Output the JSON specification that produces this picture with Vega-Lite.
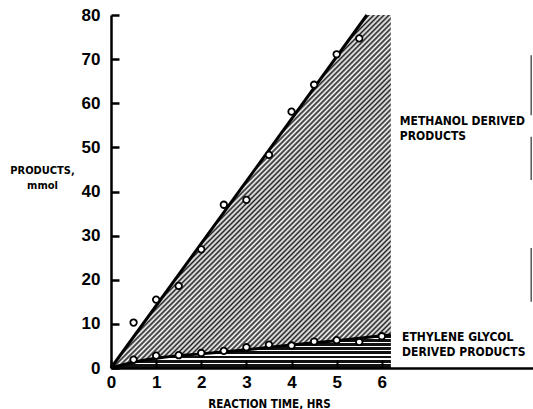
{
"$schema": "https://vega.github.io/schema/vega-lite/v6.json",
"width": 422, "height": 353,
"autosize": {"type": "none"},
"padding": {"left": 111, "top": 15, "right": 0, "bottom": 41},
"background": "white",
"config": {"view": {"stroke": null}},
"datasets": {
"upper": [{"t": 0, "v": 0}, {"t": 5.67, "v": 80}, {"t": 6.2, "v": 80}],
"meoh_line": [{"t": 0, "v": 0}, {"t": 5.67, "v": 80}],
"eg_curve": [{"t": 0, "v": 0}, {"t": 0.5, "v": 1.3}, {"t": 1, "v": 2.2}, {"t": 2, "v": 3.2}, {"t": 3, "v": 4.15}, {"t": 4, "v": 5.2}, {"t": 5, "v": 6.2}, {"t": 6, "v": 7.3}, {"t": 6.2, "v": 7.5}],
"meoh_pts": [{"t": 0.5, "v": 10.3}, {"t": 1, "v": 15.5}, {"t": 1.5, "v": 18.6}, {"t": 2, "v": 26.9}, {"t": 2.5, "v": 37}, {"t": 3, "v": 38.1}, {"t": 3.5, "v": 48.3}, {"t": 4, "v": 58.1}, {"t": 4.5, "v": 64.2}, {"t": 5, "v": 71.1}, {"t": 5.5, "v": 74.7}],
"eg_pts": [{"t": 0.5, "v": 1.9}, {"t": 1, "v": 2.8}, {"t": 1.5, "v": 2.9}, {"t": 2, "v": 3.4}, {"t": 2.5, "v": 3.9}, {"t": 3, "v": 4.7}, {"t": 3.5, "v": 5.3}, {"t": 4, "v": 5.1}, {"t": 4.5, "v": 6.0}, {"t": 5, "v": 6.3}, {"t": 5.5, "v": 5.9}, {"t": 6, "v": 7.2}],
"labels": [{"t": 6.4, "v": 57.1, "label": "METHANOL DERIVED\nPRODUCTS"}, {"t": 6.45, "v": 8.2, "label": "ETHYLENE GLYCOL\nDERIVED PRODUCTS"}],
"bracket": [{"v": 70.9, "v2": 57.3}, {"v": 52.4, "v2": 42.6}, {"v": 27.2, "v2": 15}]
},
"layer": [
{"data": {"name": "upper"},
 "mark": {"type": "area", "stroke": null, "fillOpacity": 1, "fill": {"gradient": "linear", "x1": 0, "y1": 0, "x2": 0.873, "y2": 1.1, "stops": [
{"offset":0,"color":"#222"},{"offset":0.004,"color":"#fff"},{"offset":0.008,"color":"#222"},{"offset":0.012,"color":"#fff"},{"offset":0.016,"color":"#222"},{"offset":0.02,"color":"#fff"},{"offset":0.024,"color":"#222"},{"offset":0.028,"color":"#fff"},{"offset":0.032,"color":"#222"},{"offset":0.036,"color":"#fff"},{"offset":0.04,"color":"#222"},{"offset":0.044,"color":"#fff"},{"offset":0.048,"color":"#222"},{"offset":0.052,"color":"#fff"},{"offset":0.056,"color":"#222"},{"offset":0.06,"color":"#fff"},{"offset":0.064,"color":"#222"},{"offset":0.068,"color":"#fff"},{"offset":0.072,"color":"#222"},{"offset":0.076,"color":"#fff"},{"offset":0.08,"color":"#222"},{"offset":0.084,"color":"#fff"},{"offset":0.088,"color":"#222"},{"offset":0.092,"color":"#fff"},{"offset":0.096,"color":"#222"},
{"offset":0.1,"color":"#fff"},{"offset":0.104,"color":"#222"},{"offset":0.108,"color":"#fff"},{"offset":0.112,"color":"#222"},{"offset":0.116,"color":"#fff"},{"offset":0.12,"color":"#222"},{"offset":0.124,"color":"#fff"},{"offset":0.128,"color":"#222"},{"offset":0.132,"color":"#fff"},{"offset":0.136,"color":"#222"},{"offset":0.14,"color":"#fff"},{"offset":0.144,"color":"#222"},{"offset":0.148,"color":"#fff"},{"offset":0.152,"color":"#222"},{"offset":0.156,"color":"#fff"},{"offset":0.16,"color":"#222"},{"offset":0.164,"color":"#fff"},{"offset":0.168,"color":"#222"},{"offset":0.172,"color":"#fff"},{"offset":0.176,"color":"#222"},{"offset":0.18,"color":"#fff"},{"offset":0.184,"color":"#222"},{"offset":0.188,"color":"#fff"},{"offset":0.192,"color":"#222"},{"offset":0.196,"color":"#fff"},
{"offset":0.2,"color":"#222"},{"offset":0.204,"color":"#fff"},{"offset":0.208,"color":"#222"},{"offset":0.212,"color":"#fff"},{"offset":0.216,"color":"#222"},{"offset":0.22,"color":"#fff"},{"offset":0.224,"color":"#222"},{"offset":0.228,"color":"#fff"},{"offset":0.232,"color":"#222"},{"offset":0.236,"color":"#fff"},{"offset":0.24,"color":"#222"},{"offset":0.244,"color":"#fff"},{"offset":0.248,"color":"#222"},{"offset":0.252,"color":"#fff"},{"offset":0.256,"color":"#222"},{"offset":0.26,"color":"#fff"},{"offset":0.264,"color":"#222"},{"offset":0.268,"color":"#fff"},{"offset":0.272,"color":"#222"},{"offset":0.276,"color":"#fff"},{"offset":0.28,"color":"#222"},{"offset":0.284,"color":"#fff"},{"offset":0.288,"color":"#222"},{"offset":0.292,"color":"#fff"},{"offset":0.296,"color":"#222"},
{"offset":0.3,"color":"#fff"},{"offset":0.304,"color":"#222"},{"offset":0.308,"color":"#fff"},{"offset":0.312,"color":"#222"},{"offset":0.316,"color":"#fff"},{"offset":0.32,"color":"#222"},{"offset":0.324,"color":"#fff"},{"offset":0.328,"color":"#222"},{"offset":0.332,"color":"#fff"},{"offset":0.336,"color":"#222"},{"offset":0.34,"color":"#fff"},{"offset":0.344,"color":"#222"},{"offset":0.348,"color":"#fff"},{"offset":0.352,"color":"#222"},{"offset":0.356,"color":"#fff"},{"offset":0.36,"color":"#222"},{"offset":0.364,"color":"#fff"},{"offset":0.368,"color":"#222"},{"offset":0.372,"color":"#fff"},{"offset":0.376,"color":"#222"},{"offset":0.38,"color":"#fff"},{"offset":0.384,"color":"#222"},{"offset":0.388,"color":"#fff"},{"offset":0.392,"color":"#222"},{"offset":0.396,"color":"#fff"},
{"offset":0.4,"color":"#222"},{"offset":0.404,"color":"#fff"},{"offset":0.408,"color":"#222"},{"offset":0.412,"color":"#fff"},{"offset":0.416,"color":"#222"},{"offset":0.42,"color":"#fff"},{"offset":0.424,"color":"#222"},{"offset":0.428,"color":"#fff"},{"offset":0.432,"color":"#222"},{"offset":0.436,"color":"#fff"},{"offset":0.44,"color":"#222"},{"offset":0.444,"color":"#fff"},{"offset":0.448,"color":"#222"},{"offset":0.452,"color":"#fff"},{"offset":0.456,"color":"#222"},{"offset":0.46,"color":"#fff"},{"offset":0.464,"color":"#222"},{"offset":0.468,"color":"#fff"},{"offset":0.472,"color":"#222"},{"offset":0.476,"color":"#fff"},{"offset":0.48,"color":"#222"},{"offset":0.484,"color":"#fff"},{"offset":0.488,"color":"#222"},{"offset":0.492,"color":"#fff"},{"offset":0.496,"color":"#222"},
{"offset":0.5,"color":"#fff"},{"offset":0.504,"color":"#222"},{"offset":0.508,"color":"#fff"},{"offset":0.512,"color":"#222"},{"offset":0.516,"color":"#fff"},{"offset":0.52,"color":"#222"},{"offset":0.524,"color":"#fff"},{"offset":0.528,"color":"#222"},{"offset":0.532,"color":"#fff"},{"offset":0.536,"color":"#222"},{"offset":0.54,"color":"#fff"},{"offset":0.544,"color":"#222"},{"offset":0.548,"color":"#fff"},{"offset":0.552,"color":"#222"},{"offset":0.556,"color":"#fff"},{"offset":0.56,"color":"#222"},{"offset":0.564,"color":"#fff"},{"offset":0.568,"color":"#222"},{"offset":0.572,"color":"#fff"},{"offset":0.576,"color":"#222"},{"offset":0.58,"color":"#fff"},{"offset":0.584,"color":"#222"},{"offset":0.588,"color":"#fff"},{"offset":0.592,"color":"#222"},{"offset":0.596,"color":"#fff"},
{"offset":0.6,"color":"#222"},{"offset":0.604,"color":"#fff"},{"offset":0.608,"color":"#222"},{"offset":0.612,"color":"#fff"},{"offset":0.616,"color":"#222"},{"offset":0.62,"color":"#fff"},{"offset":0.624,"color":"#222"},{"offset":0.628,"color":"#fff"},{"offset":0.632,"color":"#222"},{"offset":0.636,"color":"#fff"},{"offset":0.64,"color":"#222"},{"offset":0.644,"color":"#fff"},{"offset":0.648,"color":"#222"},{"offset":0.652,"color":"#fff"},{"offset":0.656,"color":"#222"},{"offset":0.66,"color":"#fff"},{"offset":0.664,"color":"#222"},{"offset":0.668,"color":"#fff"},{"offset":0.672,"color":"#222"},{"offset":0.676,"color":"#fff"},{"offset":0.68,"color":"#222"},{"offset":0.684,"color":"#fff"},{"offset":0.688,"color":"#222"},{"offset":0.692,"color":"#fff"},{"offset":0.696,"color":"#222"},
{"offset":0.7,"color":"#fff"},{"offset":0.704,"color":"#222"},{"offset":0.708,"color":"#fff"},{"offset":0.712,"color":"#222"},{"offset":0.716,"color":"#fff"},{"offset":0.72,"color":"#222"},{"offset":0.724,"color":"#fff"},{"offset":0.728,"color":"#222"},{"offset":0.732,"color":"#fff"},{"offset":0.736,"color":"#222"},{"offset":0.74,"color":"#fff"},{"offset":0.744,"color":"#222"},{"offset":0.748,"color":"#fff"},{"offset":0.752,"color":"#222"},{"offset":0.756,"color":"#fff"},{"offset":0.76,"color":"#222"},{"offset":0.764,"color":"#fff"},{"offset":0.768,"color":"#222"},{"offset":0.772,"color":"#fff"},{"offset":0.776,"color":"#222"},{"offset":0.78,"color":"#fff"},{"offset":0.784,"color":"#222"},{"offset":0.788,"color":"#fff"},{"offset":0.792,"color":"#222"},{"offset":0.796,"color":"#fff"},
{"offset":0.8,"color":"#222"},{"offset":0.804,"color":"#fff"},{"offset":0.808,"color":"#222"},{"offset":0.812,"color":"#fff"},{"offset":0.816,"color":"#222"},{"offset":0.82,"color":"#fff"},{"offset":0.824,"color":"#222"},{"offset":0.828,"color":"#fff"},{"offset":0.832,"color":"#222"},{"offset":0.836,"color":"#fff"},{"offset":0.84,"color":"#222"},{"offset":0.844,"color":"#fff"},{"offset":0.848,"color":"#222"},{"offset":0.852,"color":"#fff"},{"offset":0.856,"color":"#222"},{"offset":0.86,"color":"#fff"},{"offset":0.864,"color":"#222"},{"offset":0.868,"color":"#fff"},{"offset":0.872,"color":"#222"},{"offset":0.876,"color":"#fff"},{"offset":0.88,"color":"#222"},{"offset":0.884,"color":"#fff"},{"offset":0.888,"color":"#222"},{"offset":0.892,"color":"#fff"},{"offset":0.896,"color":"#222"},
{"offset":0.9,"color":"#fff"},{"offset":0.904,"color":"#222"},{"offset":0.908,"color":"#fff"},{"offset":0.912,"color":"#222"},{"offset":0.916,"color":"#fff"},{"offset":0.92,"color":"#222"},{"offset":0.924,"color":"#fff"},{"offset":0.928,"color":"#222"},{"offset":0.932,"color":"#fff"},{"offset":0.936,"color":"#222"},{"offset":0.94,"color":"#fff"},{"offset":0.944,"color":"#222"},{"offset":0.948,"color":"#fff"},{"offset":0.952,"color":"#222"},{"offset":0.956,"color":"#fff"},{"offset":0.96,"color":"#222"},{"offset":0.964,"color":"#fff"},{"offset":0.968,"color":"#222"},{"offset":0.972,"color":"#fff"},{"offset":0.976,"color":"#222"},{"offset":0.98,"color":"#fff"},{"offset":0.984,"color":"#222"},{"offset":0.988,"color":"#fff"},{"offset":0.992,"color":"#222"},{"offset":0.996,"color":"#fff"},
{"offset":1,"color":"#222"}
 ]}},
 "encoding": {
  "x": {"field": "t", "type": "quantitative", "scale": {"domain": [0, 9.35], "nice": false},
        "axis": {"title": "REACTION TIME, HRS", "values": [0,1,2,3,4,5,6], "format": "d", "grid": false, "zindex": 1,
                 "domainColor": "#000", "domainWidth": 2.5, "tickColor": "#000", "tickWidth": 2, "tickSize": -8,
                 "labelPadding": 14, "labelFont": "Liberation Sans", "labelFontWeight": "bold", "labelFontSize": 17, "labelColor": "#000", "labelFlush": false,
                 "titleFont": "DejaVu Sans Condensed", "titleFontSize": 11.5, "titleFontWeight": "bold", "titleColor": "#000",
                 "titleX": 158, "titleY": 30, "titleBaseline": "top", "titleAlign": "center", "titleAnchor": "start"}},
  "y": {"field": "v", "type": "quantitative", "scale": {"domain": [0, 80], "nice": false},
        "axis": {"title": ["PRODUCTS,", "mmol"], "values": [0,10,20,30,40,50,60,70,80], "grid": false, "zindex": 1,
                 "domainColor": "#000", "domainWidth": 2.5, "tickColor": "#000", "tickWidth": 2.5, "tickSize": -8,
                 "labelPadding": 19, "labelFont": "Liberation Sans", "labelFontWeight": "bold", "labelFontSize": 17, "labelColor": "#000",
                 "titleFont": "DejaVu Sans Condensed", "titleFontSize": 11, "titleFontWeight": "bold", "titleColor": "#000",
                 "titleAngle": 0, "titleX": -69, "titleY": 149, "titleBaseline": "top", "titleAlign": "center", "titleLineHeight": 15}},
  "y2": {"datum": 0}
 }},
{"data": {"name": "eg_curve"},
 "mark": {"type": "area", "stroke": null, "fillOpacity": 1, "fill": {"gradient": "linear", "x1": 0, "y1": 0, "x2": 0, "y2": 1, "stops": [
{"offset":0,"color":"#111"},{"offset":0.085,"color":"#111"},{"offset":0.085,"color":"#fff"},{"offset":0.125,"color":"#fff"},
{"offset":0.125,"color":"#111"},{"offset":0.21,"color":"#111"},{"offset":0.21,"color":"#fff"},{"offset":0.25,"color":"#fff"},
{"offset":0.25,"color":"#111"},{"offset":0.335,"color":"#111"},{"offset":0.335,"color":"#fff"},{"offset":0.375,"color":"#fff"},
{"offset":0.375,"color":"#111"},{"offset":0.46,"color":"#111"},{"offset":0.46,"color":"#fff"},{"offset":0.5,"color":"#fff"},
{"offset":0.5,"color":"#111"},{"offset":0.585,"color":"#111"},{"offset":0.585,"color":"#fff"},{"offset":0.625,"color":"#fff"},
{"offset":0.625,"color":"#111"},{"offset":0.71,"color":"#111"},{"offset":0.71,"color":"#fff"},{"offset":0.75,"color":"#fff"},
{"offset":0.75,"color":"#111"},{"offset":0.835,"color":"#111"},{"offset":0.835,"color":"#fff"},{"offset":0.875,"color":"#fff"},
{"offset":0.875,"color":"#111"},{"offset":1,"color":"#111"}
 ]}},
 "encoding": {"x": {"field": "t", "type": "quantitative"}, "y": {"field": "v", "type": "quantitative"}, "y2": {"datum": 0}}},
{"data": {"name": "meoh_line"},
 "mark": {"type": "line", "color": "#000", "strokeWidth": 3},
 "encoding": {"x": {"field": "t", "type": "quantitative"}, "y": {"field": "v", "type": "quantitative"}}},
{"data": {"name": "eg_curve"},
 "mark": {"type": "line", "color": "#000", "strokeWidth": 3, "interpolate": "monotone"},
 "encoding": {"x": {"field": "t", "type": "quantitative"}, "y": {"field": "v", "type": "quantitative"}}},
{"mark": {"type": "rule", "color": "#000", "strokeWidth": 2.5},
 "encoding": {"x": {"datum": 0}, "x2": {"datum": 5.67}, "y": {"datum": 80}}},
{"mark": {"type": "rule", "color": "#000", "strokeWidth": 2.5},
 "encoding": {"x": {"datum": 6.25}, "x2": {"datum": 9.35}, "y": {"datum": 80}}},
{"data": {"name": "bracket"},
 "mark": {"type": "rule", "color": "#555", "strokeWidth": 1.5},
 "encoding": {"x": {"datum": 9.31}, "y": {"field": "v", "type": "quantitative"}, "y2": {"field": "v2"}}},
{"data": {"name": "meoh_pts"},
 "mark": {"type": "circle", "fill": "#fff", "fillOpacity": 1, "stroke": "#000", "strokeWidth": 1.8, "size": 42, "opacity": 1},
 "encoding": {"x": {"field": "t", "type": "quantitative"}, "y": {"field": "v", "type": "quantitative"}}},
{"data": {"name": "eg_pts"},
 "mark": {"type": "circle", "fill": "#fff", "fillOpacity": 1, "stroke": "#000", "strokeWidth": 1.8, "size": 42, "opacity": 1},
 "encoding": {"x": {"field": "t", "type": "quantitative"}, "y": {"field": "v", "type": "quantitative"}}},
{"data": {"name": "labels"},
 "mark": {"type": "text", "align": "left", "baseline": "top", "font": "DejaVu Sans Condensed", "fontSize": 12, "fontWeight": "bold", "lineBreak": "\n", "lineHeight": 15, "color": "#000"},
 "encoding": {"x": {"field": "t", "type": "quantitative"}, "y": {"field": "v", "type": "quantitative"}, "text": {"field": "label"}}}
]
}
